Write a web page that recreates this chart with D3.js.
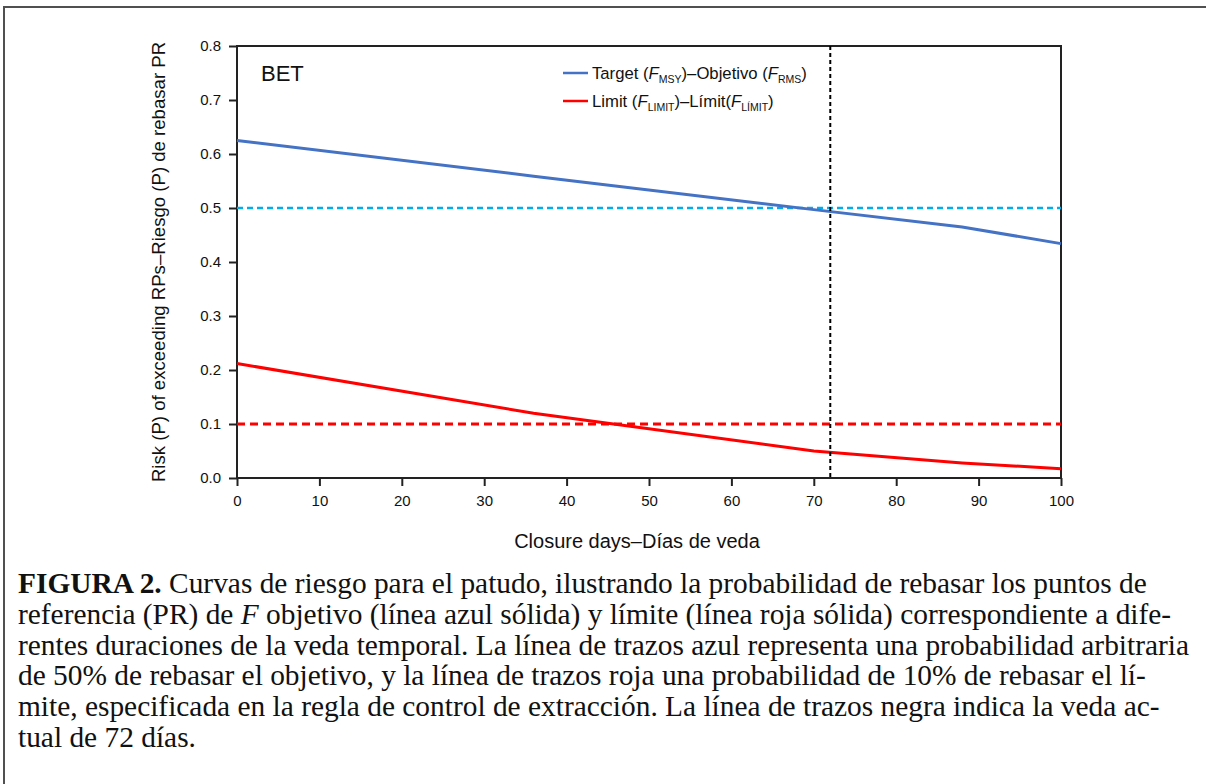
<!DOCTYPE html>
<html><head><meta charset="utf-8">
<script src="https://cdn.jsdelivr.net/npm/d3@7"></script>
<style>
html,body{margin:0;padding:0;background:#fff;}
svg{display:block;}
</style></head>
<body>
<svg id="c" width="1206" height="784"></svg>
<script>
// ---- data ----
const closureDays = [0, 36, 70, 88, 100];
const targetRisk = [0.625, 0.559, 0.497, 0.465, 0.434];
const limitRisk  = [0.212, 0.120, 0.050, 0.028, 0.017];
const targetThreshold = 0.5;
const limitThreshold = 0.1;
const currentClosure = 72;
const xTicks = [0,10,20,30,40,50,60,70,80,90,100];
const yTicks = [0,0.1,0.2,0.3,0.4,0.5,0.6,0.7,0.8];
const captionLines = [
  [["b","FIGURA 2."],["n"," Curvas de riesgo para el patudo, ilustrando la probabilidad de rebasar los puntos de"]],
  [["n","referencia (PR) de "],["i","F"],["n"," objetivo (línea azul sólida) y límite (línea roja sólida) correspondiente a dife-"]],
  [["n","rentes duraciones de la veda temporal. La línea de trazos azul representa una probabilidad arbitraria"]],
  [["n","de 50% de rebasar el objetivo, y la línea de trazos roja una probabilidad de 10% de rebasar el lí-"]],
  [["n","mite, especificada en la regla de control de extracción. La línea de trazos negra indica la veda ac-"]],
  [["n","tual de 72 días."]]
];

const svg = d3.select("#c");
const sans = "'Liberation Sans', Arial, sans-serif";
const serif = "'Liberation Serif', 'Times New Roman', serif";

// outer frame (top and left visible)
svg.append("line").attr("x1",4).attr("x2",1206).attr("y1",7).attr("y2",7).attr("stroke","#505050").attr("stroke-width",2);
svg.append("line").attr("x1",4).attr("x2",4).attr("y1",6).attr("y2",784).attr("stroke","#505050").attr("stroke-width",2);

const x = d3.scaleLinear().domain([0,100]).range([237,1061]);
const y = d3.scaleLinear().domain([0,0.8]).range([478,46]);

// axes
const xAxis = svg.append("g").attr("transform","translate(0,478)")
  .call(d3.axisBottom(x).tickValues(xTicks).tickSize(8).tickPadding(9).tickFormat(d3.format("d")));
const yAxis = svg.append("g").attr("transform","translate(237,0)")
  .call(d3.axisLeft(y).tickValues(yTicks).tickSize(8).tickPadding(8).tickFormat(d3.format(".1f")));
[xAxis,yAxis].forEach(g=>{
  g.selectAll("path,line").attr("stroke","#222").attr("stroke-width",2);
  g.selectAll("text").attr("font-family",sans).attr("font-size",15).attr("fill","#111");
});
xAxis.select(".domain").remove();
yAxis.select(".domain").remove();
// frame box
svg.append("rect").attr("x",x(0)).attr("y",y(0.8)).attr("width",x(100)-x(0)).attr("height",y(0)-y(0.8))
  .attr("fill","none").attr("stroke","#222").attr("stroke-width",2);

// reference lines
svg.append("line").attr("x1",x(0)).attr("x2",x(100)).attr("y1",y(targetThreshold)).attr("y2",y(targetThreshold))
  .attr("stroke","#00aeef").attr("stroke-width",2.5).attr("stroke-dasharray","6,4");
svg.append("line").attr("x1",x(0)).attr("x2",x(100)).attr("y1",y(limitThreshold)).attr("y2",y(limitThreshold))
  .attr("stroke","#ff0000").attr("stroke-width",3).attr("stroke-dasharray","8,5");

// curves
const line = d3.line().x((d,i)=>x(closureDays[i])).y(d=>y(d));
svg.append("path").attr("d",line(targetRisk)).attr("fill","none").attr("stroke","#4472c4").attr("stroke-width",3);
svg.append("path").attr("d",line(limitRisk)).attr("fill","none").attr("stroke","#ff0000").attr("stroke-width",3);

// current closure
svg.append("line").attr("x1",x(currentClosure)).attr("x2",x(currentClosure)).attr("y1",y(0.8)).attr("y2",y(0))
  .attr("stroke","#000").attr("stroke-width",2).attr("stroke-dasharray","4,3");

// BET label
svg.append("text").attr("x",261).attr("y",81).attr("font-family",sans).attr("font-size",22).attr("fill","#111").text("BET");

// legend
function legendEntry(yy, color, parts){
  svg.append("line").attr("x1",563).attr("x2",588).attr("y1",yy).attr("y2",yy).attr("stroke",color).attr("stroke-width",2.5);
  const t = svg.append("text").attr("x",592).attr("y",yy+6).attr("font-family",sans).attr("font-size",16.7).attr("fill","#111");
  parts.forEach(p=>{
    const ts = t.append("tspan").text(p[1]);
    if(p[0]==="i") ts.attr("font-style","italic");
    if(p[0]==="s") ts.attr("font-size",10.5).attr("dy",4);
    if(p[0]==="a") ts.attr("dy",-4);
  });
}
legendEntry(73,"#4472c4",[["n","Target ("],["i","F"],["s","MSY"],["a",")–Objetivo ("],["i","F"],["s","RMS"],["a",")"]]);
legendEntry(101,"#ff0000",[["n","Limit ("],["i","F"],["s","LIMIT"],["a",")–Límit("],["i","F"],["s","LÍMIT"],["a",")"]]);

// axis titles
svg.append("text").attr("x",637).attr("y",548).attr("text-anchor","middle").attr("font-family",sans).attr("font-size",20).attr("fill","#111")
  .text("Closure days–Días de veda");
svg.append("text").attr("transform","translate(165,262) rotate(-90)").attr("text-anchor","middle").attr("font-family",sans).attr("font-size",18.6).attr("fill","#111")
  .text("Risk (P) of exceeding RPs–Riesgo (P) de rebasar PR");

// caption
captionLines.forEach((ln,i)=>{
  const t = svg.append("text").attr("x",18).attr("y",593+i*30.8).attr("font-family",serif).attr("font-size",29.4).attr("fill","#111");
  ln.forEach(p=>{
    const ts = t.append("tspan").text(p[1]);
    if(p[0]==="b") ts.attr("font-weight","bold");
    if(p[0]==="i") ts.attr("font-style","italic");
  });
});
</script>
</body></html>
